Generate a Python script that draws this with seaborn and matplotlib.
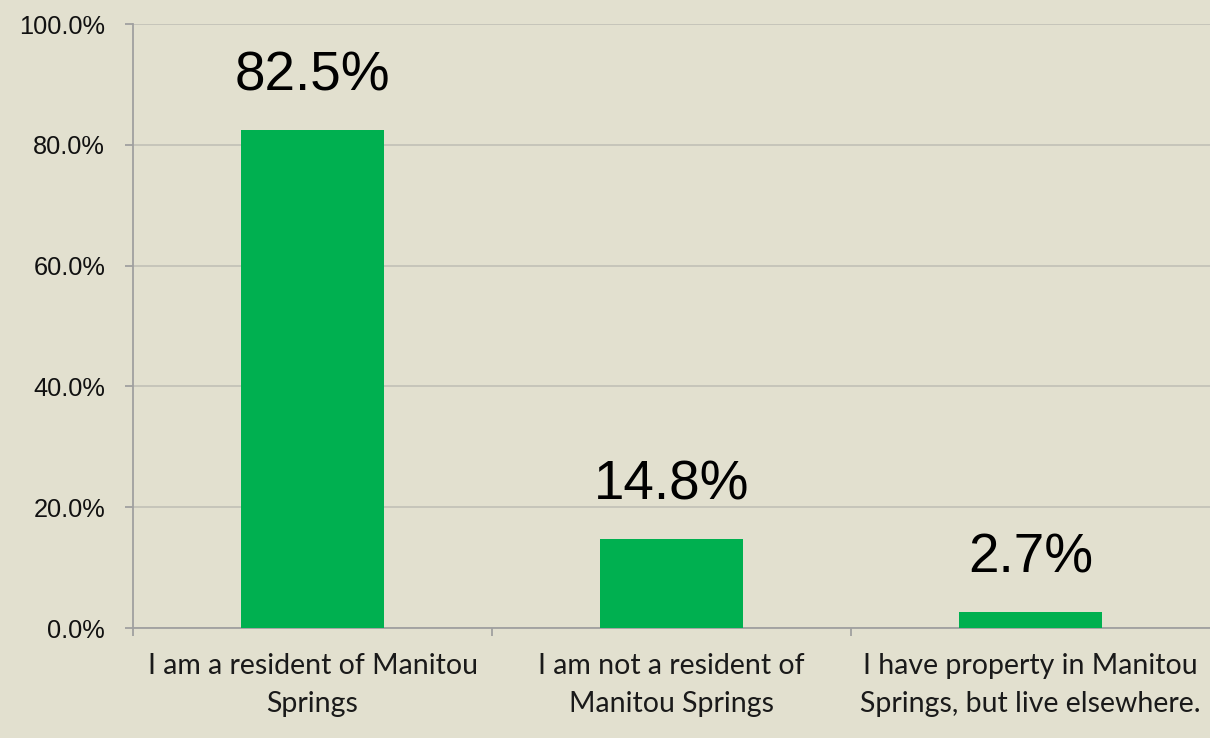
import pandas as pd
import matplotlib.pyplot as plt
import seaborn as sns
from matplotlib.ticker import PercentFormatter, FixedLocator

# Survey answers and their shares
categories = ['I am a resident of Manitou\nSprings',
              'I am not a resident of\nManitou Springs',
              'I have property in Manitou\nSprings, but live elsewhere.']
shares = [0.825, 0.148, 0.027]
share_labels = ['82.5%', '14.8%', '2.7%']

data = pd.DataFrame({'answer': categories, 'share': shares})

bg = '#E2E0CF'
sns.set_theme(style='white', rc={'figure.facecolor': bg, 'axes.facecolor': bg})
plt.rcParams['font.family'] = ['Liberation Sans', 'DejaVu Sans']

fig = plt.figure(figsize=(12.1, 7.38), dpi=100)
ax = fig.add_axes([133 / 1210, 1 - 628 / 738, 1 - 133 / 1210, (628 - 24) / 738])

sns.barplot(data=data, x='answer', y='share', color='#00B050', saturation=1,
            width=0.4, linewidth=0, ax=ax, zorder=3)

ax.set_xlim(-0.5, 2.5)
ax.set_ylim(0, 1)
ax.yaxis.set_major_formatter(PercentFormatter(1.0, decimals=1))
ax.set_yticks([0, 0.2, 0.4, 0.6, 0.8, 1.0])
ax.grid(axis='y', color='#C4C3B8', linewidth=1.3, zorder=0)
ax.set_axisbelow(True)

for side in ['top', 'right']:
    ax.spines[side].set_visible(False)
for side in ['left', 'bottom']:
    ax.spines[side].set_color('#A0A0A0')
    ax.spines[side].set_linewidth(1.3)

ax.tick_params(axis='y', length=6, width=1.3, color='#A0A0A0', labelsize=18.3,
               labelcolor='#111111', pad=14, left=True)
ax.tick_params(axis='x', which='major', length=0, pad=18)
ax.xaxis.set_minor_locator(FixedLocator([-0.5, 0.5, 1.5]))
ax.tick_params(axis='x', which='minor', length=6, width=1.3, color='#A0A0A0', bottom=True)
for lbl in ax.get_xticklabels():
    lbl.set_fontfamily(['Lato', 'DejaVu Sans'])
    lbl.set_fontsize(20.5)
    lbl.set_color('#1a1a1a')
    lbl.set_linespacing(1.58)

ax.set_xlabel('')
ax.set_ylabel('')

for i, (v, txt) in enumerate(zip(shares, share_labels)):
    ax.annotate(txt, (i, v), xytext=(0, 38), textcoords='offset points',
                ha='center', va='center', fontsize=39.5, color='black')

plt.savefig('out.png', dpi=100, facecolor=bg)
